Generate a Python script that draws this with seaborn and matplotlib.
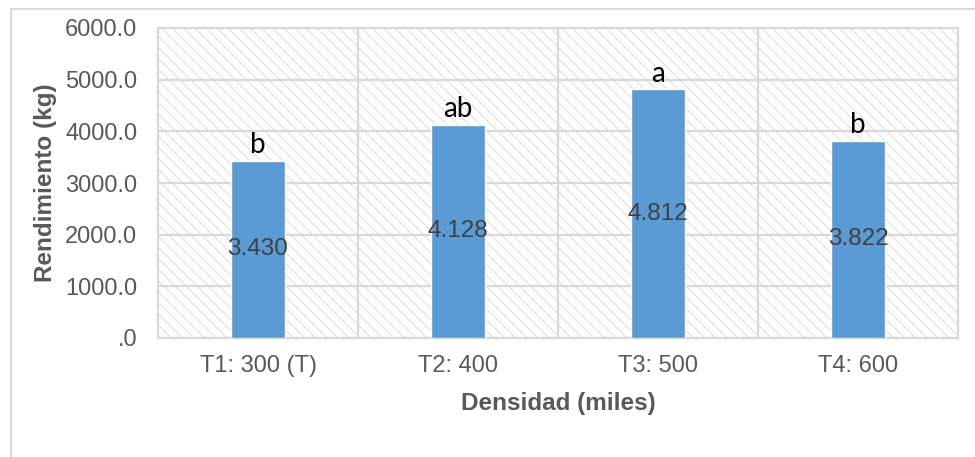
import matplotlib
matplotlib.use("Agg")
import matplotlib.pyplot as plt
from matplotlib.patches import Rectangle
import seaborn as sns

# Data
tratamientos = ["T1: 300 (T)", "T2: 400", "T3: 500", "T4: 600"]
rendimiento = [3430, 4128, 4812, 3822]
etiquetas_valor = ["3.430", "4.128", "4.812", "3.822"]
letras = ["b", "ab", "a", "b"]
yticks = [0, 1000, 2000, 3000, 4000, 5000, 6000]
ytick_labels = [".0", "1000.0", "2000.0", "3000.0", "4000.0", "5000.0", "6000.0"]

sns.set_theme(style="white")
plt.rcParams["font.family"] = ["Liberation Sans", "DejaVu Sans"]
plt.rcParams["hatch.linewidth"] = 0.6
plt.rcParams["hatch.color"] = "#d6d6d6"

W, H = 975, 457
fig = plt.figure(figsize=(W / 100, H / 100), dpi=100)

# Outer chart frame (partially cropped on the right and bottom)
fig.patches.append(Rectangle((11 / W, -0.1), 1.2, (H - 9) / H + 0.1,
                             transform=fig.transFigure, fill=False,
                             edgecolor="#d9d9d9", linewidth=1.5))

ax = fig.add_axes([158 / W, (H - 338) / H, 800 / W, 310 / H])
ax.set_facecolor("white")

# Hatched plot-area background
ax.add_patch(Rectangle((0, 0), 1, 1, transform=ax.transAxes,
                       facecolor="white", edgecolor="#d6d6d6",
                       hatch="\\\\\\", linewidth=0, zorder=0))

sns.barplot(x=tratamientos, y=rendimiento, color="#5B9BD5", width=0.27,
            saturation=1, ax=ax, zorder=3)

ax.set_ylim(0, 6000)
ax.set_xlim(-0.5, 3.5)
ax.set_yticks(yticks)
ax.set_yticklabels(ytick_labels)

# Grid: horizontal at ticks, vertical between categories
for y in yticks:
    ax.axhline(y, color="#d9d9d9", linewidth=1.6, zorder=1)
for x in [0.5, 1.5, 2.5]:
    ax.axvline(x, color="#d9d9d9", linewidth=1.6, zorder=1)

for s in ax.spines.values():
    s.set_color("#d9d9d9")
    s.set_linewidth(1.6)

ax.tick_params(axis="both", length=0, labelsize=17, labelcolor="#595959")
ax.tick_params(axis="y", pad=15)
ax.tick_params(axis="x", pad=12)

cont = ax.containers[0]
ax.bar_label(cont, labels=etiquetas_valor, label_type="center",
             fontsize=17.5, color="#404040", zorder=4)
ax.bar_label(cont, labels=letras, padding=2, fontsize=20,
             color="black", family=["Lato", "DejaVu Sans"])

ax.set_xlabel("Densidad (miles)", fontsize=17.5, fontweight="bold",
              color="#595959", labelpad=11)
ax.set_ylabel("Rendimiento (kg)", fontsize=17.5, fontweight="bold",
              color="#595959", labelpad=6)

fig.savefig("out.png", dpi=100)
